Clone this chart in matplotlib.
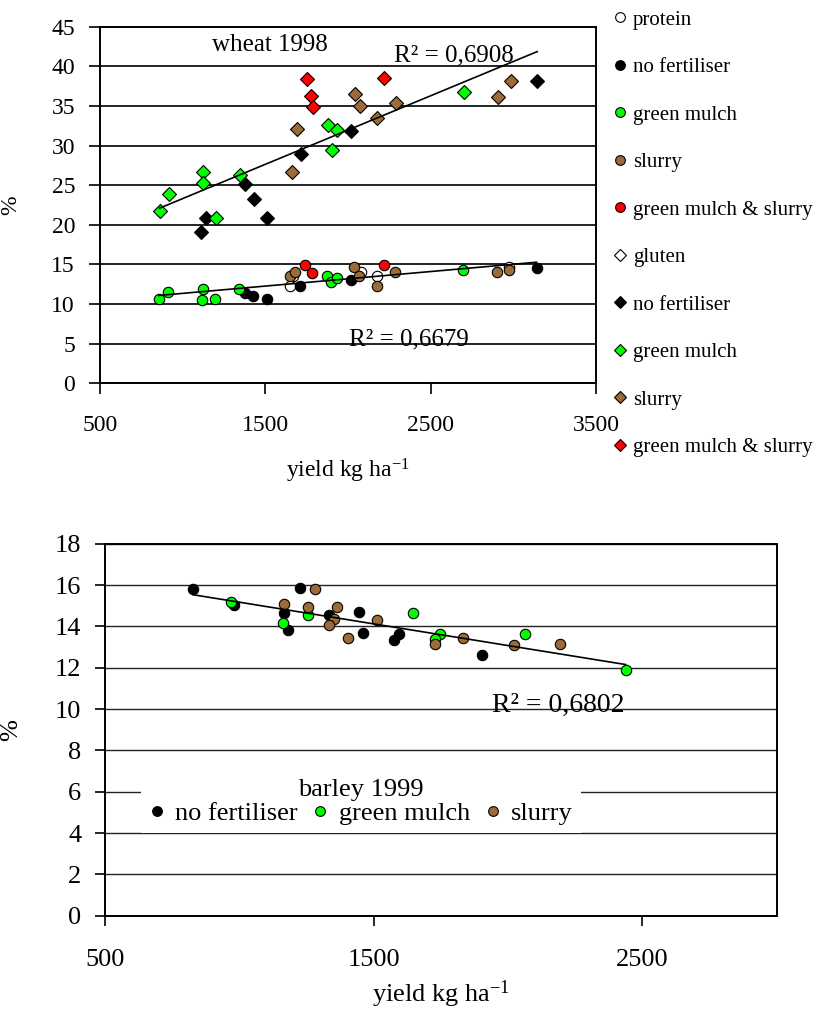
import numpy as np
import matplotlib.pyplot as plt
from matplotlib.lines import Line2D

plt.rcParams['font.family'] = ['Liberation Serif', 'DejaVu Serif']
plt.rcParams['mathtext.fontset'] = 'custom'
plt.rcParams['mathtext.rm'] = 'Liberation Serif'
plt.rcParams['mathtext.it'] = 'Liberation Serif:italic'

GREEN = '#00FF00'
BROWN = '#9C6B38'
RED = '#FF0000'

# ---- wheat 1998: protein (circles) ----
prot_open_x = [1652, 1670, 2076, 2174, 2976]
prot_open_y = [12.3, 13.5, 14.1, 13.5, 14.7]
prot_none_x = [1374, 1426, 1510, 1710, 2016, 3140]
prot_none_y = [11.4, 11.0, 10.6, 12.3, 13.0, 14.5]
prot_green_x = [856, 914, 1120, 1114, 1198, 1340, 1870, 1900, 1932, 2696]
prot_green_y = [10.6, 11.5, 11.9, 10.5, 10.6, 11.9, 13.5, 12.75, 13.3, 14.3]
prot_slurry_x = [1652, 1680, 2036, 2066, 2174, 2286, 2904, 2976]
prot_slurry_y = [13.5, 14.1, 14.7, 13.5, 12.3, 14.1, 14.1, 14.3]
prot_both_x = [1740, 1784, 2216]
prot_both_y = [14.9, 13.9, 14.9]

# ---- wheat 1998: gluten (diamonds) ----
glut_none_x = [3144, 2020, 1714, 1374, 1430, 1510, 1140, 1110]
glut_none_y = [38.1, 31.8, 28.9, 25.2, 23.2, 20.8, 20.8, 19.1]
glut_green_x = [2704, 1880, 1936, 1904, 1124, 1120, 1346, 916, 860, 1200]
glut_green_y = [36.8, 32.6, 32.0, 29.5, 26.6, 25.3, 26.3, 23.9, 21.7, 20.9]
glut_slurry_x = [1690, 2040, 2072, 2290, 2174, 1664, 2986, 2910]
glut_slurry_y = [32.1, 36.5, 35.0, 35.4, 33.5, 26.7, 38.2, 36.1]
glut_both_x = [1750, 2220, 1774, 1788]
glut_both_y = [38.4, 38.5, 36.2, 34.9]

# ---- barley 1999: protein ----
bar_none_x = [827, 982, 1167, 1183, 1227, 1332, 1447, 1460, 1577, 1594, 1904]
bar_none_y = [15.82, 15.03, 14.66, 13.81, 15.84, 14.53, 14.69, 13.68, 13.32, 13.61, 12.6]
bar_green_x = [970, 1161, 1255, 1646, 1748, 1730, 2065, 2438]
bar_green_y = [15.19, 14.18, 14.53, 14.63, 13.65, 13.4, 13.65, 11.9]
bar_slurry_x = [1280, 1166, 1255, 1363, 1353, 1334, 1512, 1404, 1730, 1833, 2021, 2195]
bar_slurry_y = [15.82, 15.1, 14.94, 14.94, 14.34, 14.06, 14.31, 13.42, 13.13, 13.42, 13.1, 13.13]


def trend(ax, xs, ys):
    x = np.concatenate(xs)
    y = np.concatenate(ys)
    k, b = np.polyfit(x, y, 1)
    xx = np.array([x.min(), x.max()])
    ax.plot(xx, k * xx + b, color='black', lw=1.2, zorder=5)


def style_axes(ax, ticklen, xpad):
    ax.set_axisbelow(True)
    ax.yaxis.grid(True, color='black', lw=1.2)
    for s in ax.spines.values():
        s.set_linewidth(1.4)
    ax.tick_params(axis='y', direction='out', length=ticklen, width=1.2, pad=10)
    ax.tick_params(axis='x', direction='out', length=ticklen, width=1.2, pad=xpad)


fig = plt.figure(figsize=(8.39, 10.10), dpi=100)

# ================= top chart =================
ax1 = fig.add_axes([0.1192, 0.6205, 0.5912, 0.3531])
mk = dict(ls='none', mec='black', mew=0.8, zorder=3)
ax1.plot(prot_open_x, prot_open_y, marker='o', ms=7.5, mfc='white', **mk)
ax1.plot(prot_none_x, prot_none_y, marker='o', ms=7.5, mfc='black', **mk)
ax1.plot(prot_green_x, prot_green_y, marker='o', ms=7.5, mfc=GREEN, **mk)
ax1.plot(prot_slurry_x, prot_slurry_y, marker='o', ms=7.5, mfc=BROWN, **mk)
ax1.plot(prot_both_x, prot_both_y, marker='o', ms=7.5, mfc=RED, **mk)
ax1.plot(glut_none_x, glut_none_y, marker='D', ms=7, mfc='black', **mk)
ax1.plot(glut_green_x, glut_green_y, marker='D', ms=7, mfc=GREEN, **mk)
ax1.plot(glut_slurry_x, glut_slurry_y, marker='D', ms=7, mfc=BROWN, **mk)
ax1.plot(glut_both_x, glut_both_y, marker='D', ms=7, mfc=RED, **mk)

trend(ax1, [prot_none_x, prot_green_x, prot_slurry_x, prot_both_x],
      [prot_none_y, prot_green_y, prot_slurry_y, prot_both_y])
trend(ax1, [glut_none_x, glut_green_x, glut_slurry_x, glut_both_x],
      [glut_none_y, glut_green_y, glut_slurry_y, glut_both_y])

ax1.set_xlim(500, 3500)
ax1.set_ylim(0, 45)
ax1.set_xticks([500, 1500, 2500, 3500])
ax1.set_yticks(range(0, 46, 5))
ax1.tick_params(labelsize=17)
style_axes(ax1, 8, 15)
ax1.set_xlabel('yield kg ha$^{-1}$', fontsize=17)
ax1.set_ylabel('%', fontsize=17)
ax1.xaxis.set_label_coords(0.5, -0.205)
ax1.yaxis.set_label_coords(-0.158, 0.5)

ax1.text(1175, 41.97, 'wheat 1998', fontsize=18, va='baseline')
ax1.text(2277, 40.6, 'R² = 0,6908', fontsize=18, va='baseline')
ax1.text(2006, 4.75, 'R² = 0,6679', fontsize=18, va='baseline')

lk = dict(ls='none', mec='black', mew=0.8)
handles = [
    Line2D([], [], marker='o', ms=7, mfc='white', **lk),
    Line2D([], [], marker='o', ms=7, mfc='black', **lk),
    Line2D([], [], marker='o', ms=7, mfc=GREEN, **lk),
    Line2D([], [], marker='o', ms=7, mfc=BROWN, **lk),
    Line2D([], [], marker='o', ms=7, mfc=RED, **lk),
    Line2D([], [], marker='D', ms=6, mfc='white', **lk),
    Line2D([], [], marker='D', ms=6, mfc='black', **lk),
    Line2D([], [], marker='D', ms=6, mfc=GREEN, **lk),
    Line2D([], [], marker='D', ms=6, mfc=BROWN, **lk),
    Line2D([], [], marker='D', ms=6, mfc=RED, **lk),
]
labels = ['protein', 'no fertiliser', 'green mulch', 'slurry', 'green mulch & slurry',
          'gluten', 'no fertiliser', 'green mulch', 'slurry', 'green mulch & slurry']
fig.legend(handles, labels, loc='upper left', bbox_to_anchor=(614 / 839, 1 - 10 / 1010),
           frameon=False, fontsize=15, labelspacing=1.34, handlelength=0.6,
           handletextpad=0.3, borderpad=0, borderaxespad=0)

# ================= bottom chart =================
ax2 = fig.add_axes([0.1251, 0.0934, 0.8006, 0.3683])
ax2.plot(bar_none_x, bar_none_y, marker='o', ms=7.5, mfc='black', **mk)
ax2.plot(bar_green_x, bar_green_y, marker='o', ms=7.5, mfc=GREEN, **mk)
ax2.plot(bar_slurry_x, bar_slurry_y, marker='o', ms=7.5, mfc=BROWN, **mk)
trend(ax2, [bar_none_x, bar_green_x, bar_slurry_x], [bar_none_y, bar_green_y, bar_slurry_y])

ax2.set_xlim(500, 3000)
ax2.set_ylim(0, 18)
ax2.set_xticks([500, 1500, 2500])
ax2.set_yticks(range(0, 19, 2))
ax2.tick_params(labelsize=19)
style_axes(ax2, 7, 17)
ax2.yaxis.grid(True, color='#222222', lw=1.0)
ax2.set_xlabel('yield kg ha$^{-1}$', fontsize=19)
ax2.set_ylabel('%', fontsize=19)
ax2.xaxis.set_label_coords(0.5, -0.168)
ax2.yaxis.set_label_coords(-0.124, 0.5)

ax2.text(1942, 9.87, 'R² = 0,6802', fontsize=20, va='baseline', zorder=6)

bh = [Line2D([], [], marker='o', ms=7, mfc='black', **lk),
      Line2D([], [], marker='o', ms=7, mfc=GREEN, **lk),
      Line2D([], [], marker='o', ms=7, mfc=BROWN, **lk)]
leg = ax2.legend(bh, ['no fertiliser', 'green mulch', 'slurry'], title='barley 1999',
                 ncol=3, loc='center', bbox_to_anchor=(0.381, 0.305), fontsize=19,
                 title_fontsize=19, frameon=True, fancybox=False, facecolor='white',
                 edgecolor='none', framealpha=1, handlelength=0.6, handletextpad=0.4,
                 columnspacing=0.55, borderpad=0.3, labelspacing=0)

fig.savefig('out.png', dpi=100)
